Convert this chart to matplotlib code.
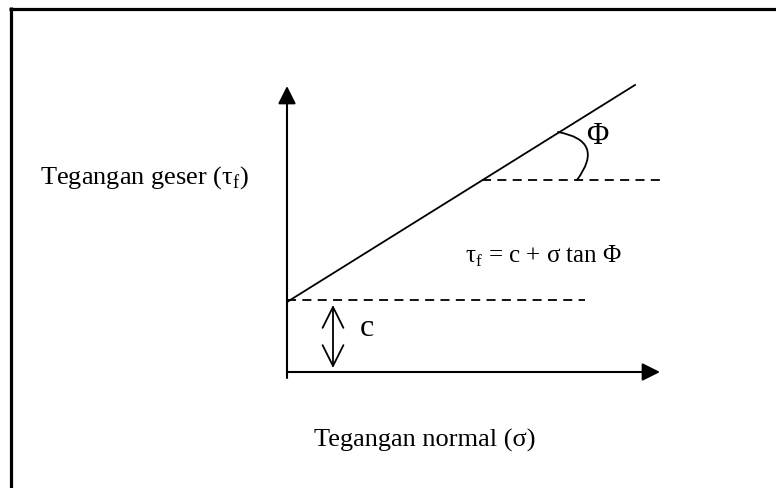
import matplotlib.pyplot as plt
from matplotlib.patches import FancyArrowPatch

plt.rcParams['font.family'] = ['Liberation Serif', 'DejaVu Serif']
plt.rcParams['mathtext.fontset'] = 'custom'
plt.rcParams['mathtext.rm'] = 'Liberation Serif'

# diagram geometry, in px units with origin at the axes corner (y up)
x_axis = [(0, 0), (373, 0)]
y_axis = [(0, -6), (0, 286)]
envelope = [(0, 70), (348, 287)]
c_dash = [(0, 72), (298, 72)]
phi_dash = [(195, 192), (373, 192)]
phi_arc = [(290, 192), (271, 240)]
c_arrow = [(46, 67), (46, 4)]
frame_top = [(-278, 363.5), (489, 363.5)]
frame_left = [(-276, 365), (-276, -116)]

labels = {
    'y': ('Tegangan geser (τ$_{\\mathrm{f}}$)', (-143, 194)),
    'x': ('Tegangan normal (σ)', (138, -68)),
    'eq': ('τ$_{\\mathrm{f}}$ = c + σ tan Φ', (257, 116)),
    'phi': ('Φ', (310, 235)),
    'c': ('c', (80, 44)),
}

fig = plt.figure(figsize=(7.76, 4.88), dpi=100)
ax = fig.add_axes([0, 0, 1, 1])
ax.set_xlim(-287, 489)
ax.set_ylim(-116, 372)
ax.axis('off')

# frame (only top and left edges are visible)
for seg in (frame_top, frame_left):
    ax.plot([seg[0][0], seg[1][0]], [seg[0][1], seg[1][1]], color='black', lw=2.3, solid_capstyle='butt')

# axes with filled arrow heads
for seg in (x_axis, y_axis):
    ax.annotate('', xy=seg[1], xytext=seg[0],
                arrowprops=dict(arrowstyle='-|>', mutation_scale=27, lw=1.5,
                                color='black', shrinkA=0, shrinkB=0))

# failure envelope
ax.plot([envelope[0][0], envelope[1][0]], [envelope[0][1], envelope[1][1]], color='black', lw=1.3)

# dashed reference lines
for seg in (c_dash, phi_dash):
    ax.plot([seg[0][0], seg[1][0]], [seg[0][1], seg[1][1]], color='black', lw=1.3,
            linestyle=(0, (5, 3.5)))

# angle arc
arc = FancyArrowPatch(phi_arc[0], phi_arc[1], arrowstyle='-', connectionstyle='arc3,rad=0.8',
                      color='black', lw=1.3, shrinkA=0, shrinkB=0)
ax.add_patch(arc)

# cohesion double arrow
ax.annotate('', xy=c_arrow[1], xytext=c_arrow[0],
            arrowprops=dict(arrowstyle='<->,head_length=1.5,head_width=0.75', mutation_scale=10,
                            lw=1.3, color='black', shrinkA=0, shrinkB=0))

ax.text(*labels['y'][1], labels['y'][0], fontsize=19, ha='center', va='center')
ax.text(*labels['x'][1], labels['x'][0], fontsize=19, ha='center', va='center')
ax.text(*labels['eq'][1], labels['eq'][0], fontsize=18, ha='center', va='center')
ax.text(*labels['phi'][1], labels['phi'][0], fontsize=22, ha='center', va='center')
ax.text(*labels['c'][1], labels['c'][0], fontsize=23, ha='center', va='center')

fig.savefig('out.png', dpi=100)
